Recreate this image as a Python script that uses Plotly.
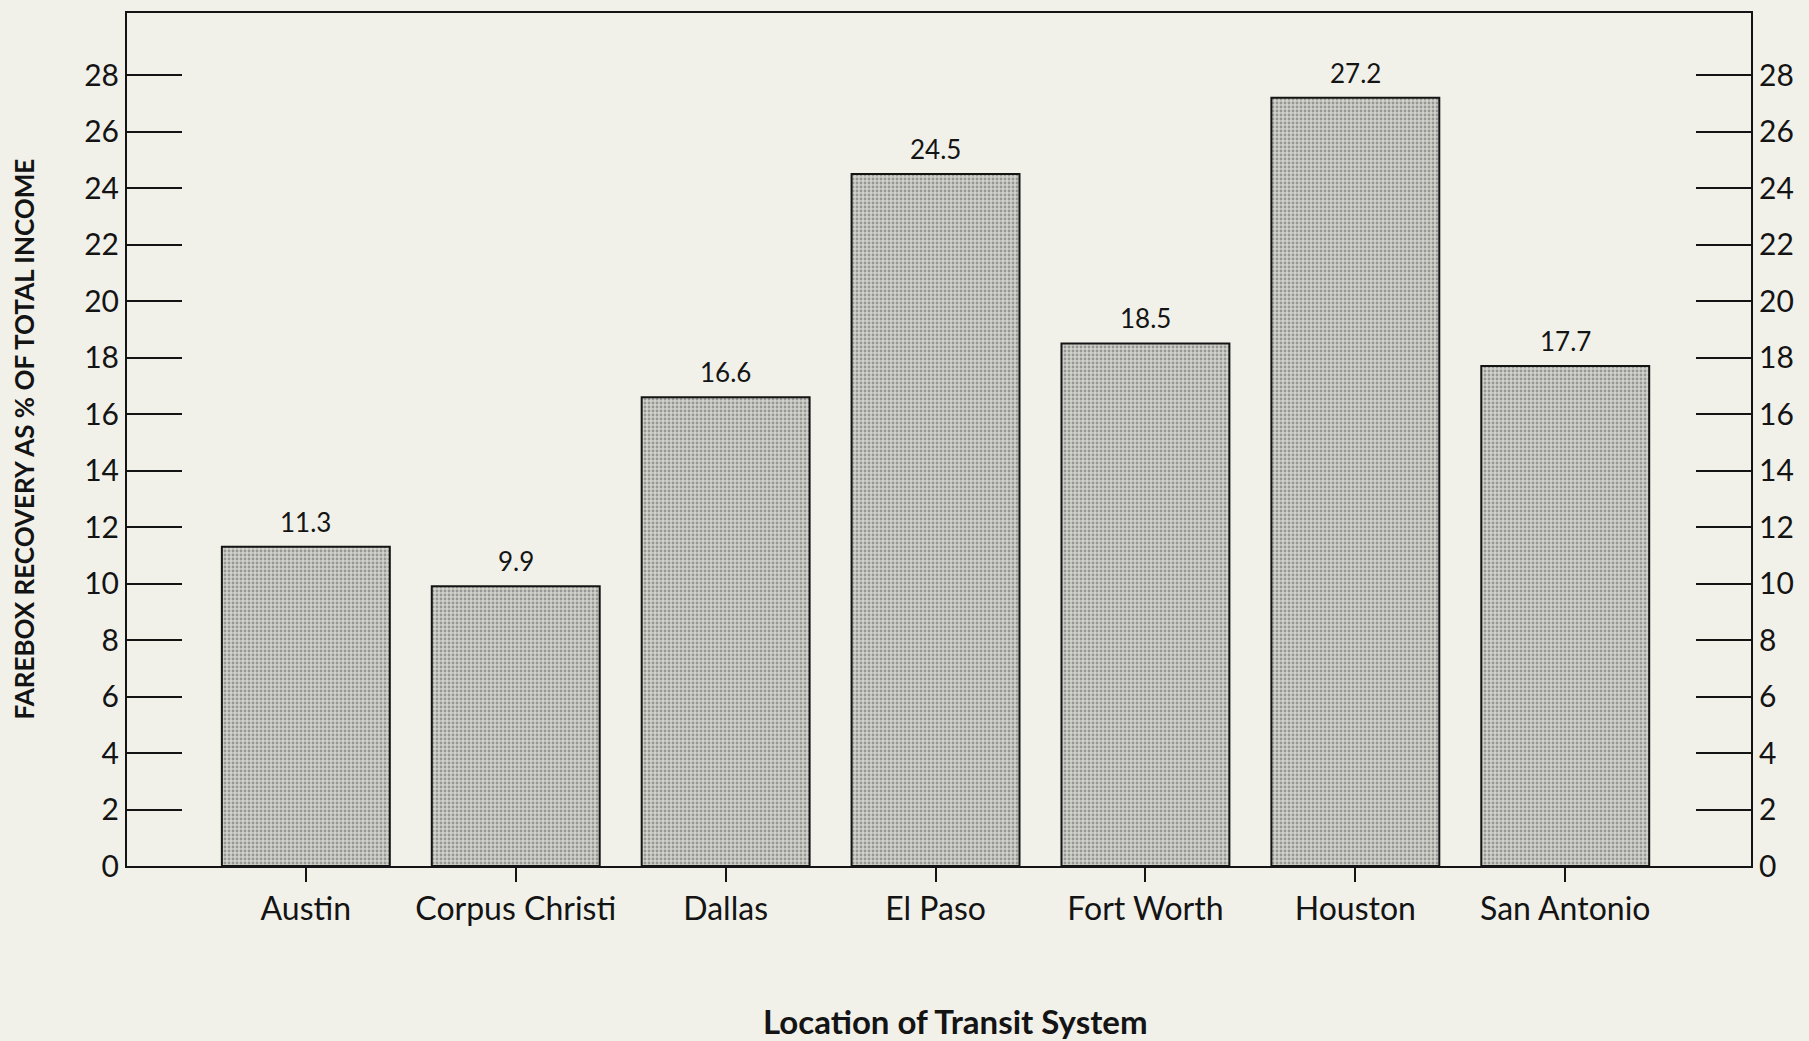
import plotly.graph_objects as go

categories = ["Austin", "Corpus Christi", "Dallas", "El Paso", "Fort Worth", "Houston", "San Antonio"]
values = [11.3, 9.9, 16.6, 24.5, 18.5, 27.2, 17.7]
value_labels = ["11.3", "9.9", "16.6", "24.5", "18.5", "27.2", "17.7"]
y_ticks = list(range(0, 29, 2))

FONT = "Lato"
INK = "#141414"
PAPER = "#f1f1ea"

fig = go.Figure()
fig.add_trace(go.Bar(
    x=list(range(len(categories))),
    y=values,
    width=0.8,
    marker=dict(
        color="#d0d0ca",
        line=dict(color=INK, width=2),
        pattern=dict(shape=".", fgcolor="#5a5a5a", bgcolor="#d2d2cc", size=4, solidity=0.4),
    ),
    showlegend=False,
    hoverinfo="skip",
))

for i, (v, lab) in enumerate(zip(values, value_labels)):
    fig.add_annotation(x=i, y=v, text=lab, showarrow=False, yanchor="bottom", yshift=7,
                       font=dict(family=FONT, size=26, color=INK))

fig.add_annotation(xref="paper", yref="paper", x=0, y=0.5, xshift=-104,
                   xanchor="center", yanchor="middle", textangle=-90, showarrow=False,
                   text="<b>FAREBOX RECOVERY AS % OF TOTAL INCOME</b>",
                   font=dict(family=FONT, size=26, color=INK))
fig.add_annotation(xref="paper", yref="paper", x=0.51, y=0, yshift=-155,
                   xanchor="center", yanchor="middle", showarrow=False,
                   text="<b>Location of Transit System</b>",
                   font=dict(family=FONT, size=33, color=INK))

fig.update_layout(
    width=1809, height=1041,
    paper_bgcolor=PAPER, plot_bgcolor=PAPER,
    margin=dict(l=127, r=58, t=13, b=175),
    font=dict(family=FONT, color=INK),
    xaxis=dict(
        range=[-0.852, 6.885],
        tickmode="array", tickvals=list(range(len(categories))), ticktext=categories,
        ticks="outside", ticklen=14, tickwidth=2, tickcolor=INK,
        showline=True, linecolor=INK, linewidth=2, mirror=True,
        showgrid=False, zeroline=False,
        tickfont=dict(family=FONT, size=32, color=INK),
    ),
    yaxis=dict(
        range=[0, 30.2],
        tickmode="array", tickvals=y_ticks,
        ticks="inside", ticklen=55, tickwidth=2, tickcolor=INK,
        showline=True, linecolor=INK, linewidth=2,
        showgrid=False, zeroline=False,
        tickfont=dict(family=FONT, size=30, color=INK),
    ),
    yaxis2=dict(
        range=[0, 30.2], overlaying="y", side="right",
        tickmode="array", tickvals=y_ticks,
        ticks="inside", ticklen=55, tickwidth=2, tickcolor=INK,
        showline=True, linecolor=INK, linewidth=2,
        showgrid=False, zeroline=False,
        tickfont=dict(family=FONT, size=30, color=INK),
    ),
)

fig.add_trace(go.Scatter(x=[None], y=[None], yaxis="y2", showlegend=False, hoverinfo="skip"))

fig.write_html("out.html", config={"displayModeBar": False},
               post_script="document.body.style.margin='0';document.body.style.overflow='hidden';document.body.style.background='#f1f1ea';")
